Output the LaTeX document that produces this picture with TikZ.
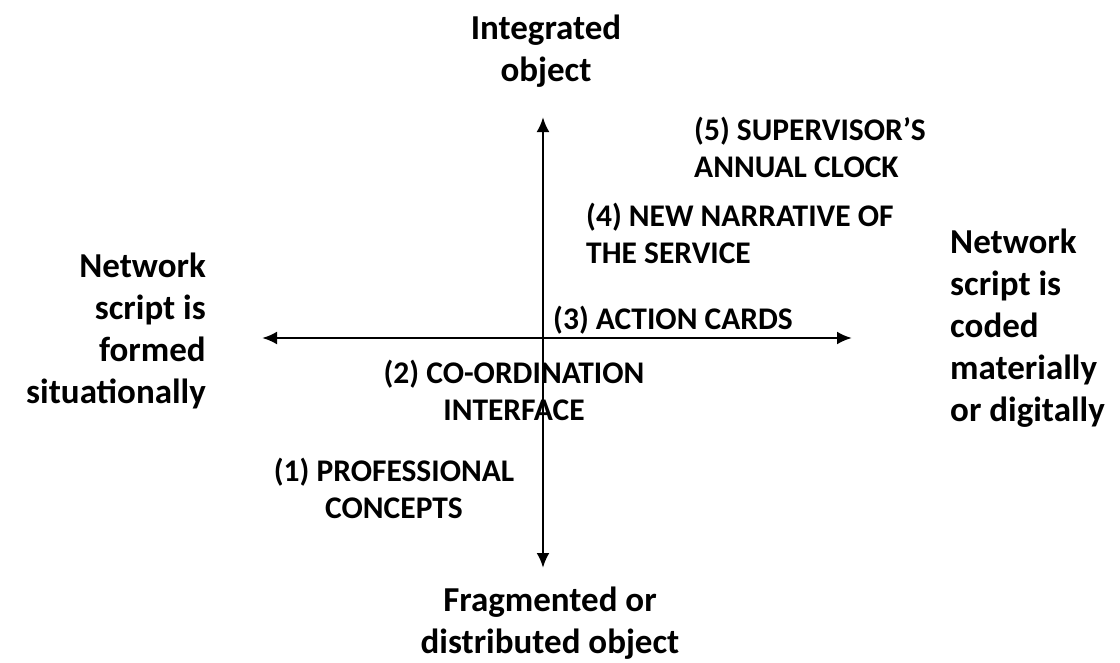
\documentclass[tikz,border=0pt]{standalone}
\usepackage{fontspec}
\setmainfont{Carlito}
\usepackage{tikz}
\usetikzlibrary{arrows.meta}

\begin{document}
\begin{tikzpicture}[x=1pt, y=-1pt,
        every node/.style ={inner sep=0pt, font=\bfseries},
        Axis/.style      ={draw, line width=2.6pt, {Latex[length=15pt,width=13pt]}-{Latex[length=15pt,width=13pt]}},
        PoleLabel/.style ={font=\bfseries\fontsize{35}{42}\selectfont},
        CaseLabel/.style ={font=\bfseries\fontsize{31.5}{37}\selectfont},
    ]
\useasboundingbox (0,0) rectangle (1120,662);

% Axis ends
\coordinate (top) at (543,117);
\coordinate (bottom) at (543,568);
\coordinate (west) at (262,338);
\coordinate (east) at (852,338);

% Poles
\node (integrated) [PoleLabel, align=center] at (546,51) {Integrated\\object};
\node (fragmented) [PoleLabel, align=center] at (550,623) {Fragmented or\\distributed object};
\node (situational) [PoleLabel, align=right, anchor=east] at (206,331) {Network\\script is\\formed\\situationally};
\node (coded) [PoleLabel, align=left, anchor=west] at (950,328) {Network\\script is\\coded\\materially\\or digitally};

% Cases
\node (clock) [CaseLabel, align=left, anchor=west] at (694,147) {(5) SUPERVISOR’S\\ANNUAL CLOCK};
\node (narrative) [CaseLabel, align=left, anchor=west] at (586,233) {(4) NEW NARRATIVE OF\\THE SERVICE};
\node (cards) [CaseLabel, anchor=west] at (553,320) {(3) ACTION CARDS};
\node (interface) [CaseLabel, align=center] at (514,390) {(2) CO-ORDINATION\\INTERFACE};
\node (concepts) [CaseLabel, align=center] at (394,488) {(1) PROFESSIONAL\\CONCEPTS};

% Axes
\draw[Axis] (bottom) -- (top);
\draw[Axis] (west) -- (east);

\end{tikzpicture}
\end{document}
